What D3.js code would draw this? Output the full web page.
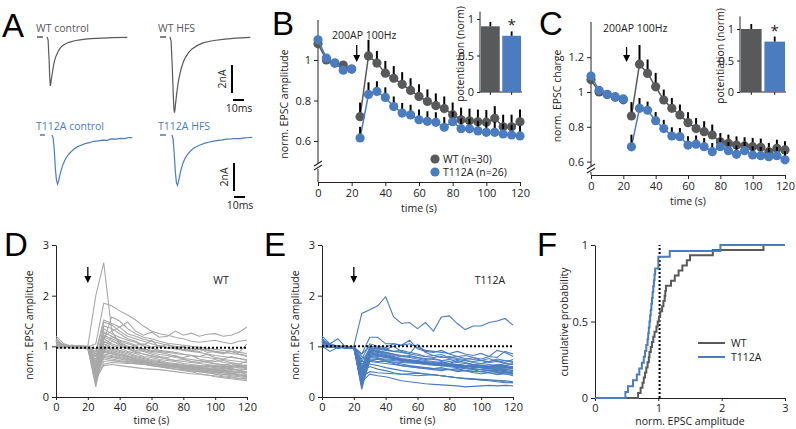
<!DOCTYPE html>
<html lang="en">
<head>
<meta charset="UTF-8">
<title>EPSC potentiation</title>
<script src="https://cdn.jsdelivr.net/npm/d3@7"></script>
<style>
  body { margin: 0; background: #fff; }
  svg text { font-family: "Open Sans", sans-serif; font-size: 10.5px; fill: #222; }
  svg .tick text { font-size: 11px; }
  svg text.letter { font-family: "Liberation Sans", Arial, sans-serif; font-size: 33px; fill: #000; }
</style>
</head>
<body>
<script>
const gray = '#58595b', blue = '#4a7cbf', light = '#a8a8a8'

// ---- A: example traces (ms, nA)
const tWT = [0, 1, 2, 2.5, 3, 3.5, 4, 5, 6, 7, 8, 10, 12, 14, 17, 20, 25, 30, 35, 40, 50, 60, 73]
const wtControl = [0, -0.2, -1.8, -2.9, -3.5, -3.3, -3.0, -2.5, -2.0, -1.65, -1.4, -1.05, -0.8, -0.62, -0.48, -0.38, -0.27, -0.2, -0.15, -0.12, -0.08, -0.05, -0.02]
const tHFS = [0, 1, 2, 3, 3.5, 4, 4.5, 5, 6, 7, 8, 10, 12, 14, 17, 20, 25, 30, 35, 40, 50, 60, 73]
const wtHFS = [0, -0.3, -2.0, -4.2, -5.0, -5.4, -5.2, -4.8, -4.1, -3.5, -3.0, -2.3, -1.8, -1.45, -1.1, -0.85, -0.6, -0.42, -0.32, -0.25, -0.15, -0.08, -0.03]
const tMut = [0, 1, 2, 3, 4, 5, 6, 7, 8, 10, 12, 14, 16, 18, 20, 23, 26, 30, 34, 38, 42, 46, 50, 54, 58, 62, 66, 70, 73]
const mutControl = [0, -0.2, -1.0, -2.3, -3.2, -3.5, -3.3, -2.9, -2.6, -2.1, -1.75, -1.5, -1.3, -1.15, -1.0, -0.85, -0.75, -0.62, -0.55, -0.45, -0.42, -0.36, -0.38, -0.28, -0.3, -0.24, -0.26, -0.18, -0.2]
const mutHFS = [0, -0.3, -1.3, -2.6, -3.4, -3.6, -3.3, -2.9, -2.55, -2.0, -1.65, -1.4, -1.2, -1.05, -0.92, -0.8, -0.7, -0.58, -0.5, -0.44, -0.38, -0.35, -0.3, -0.28, -0.25, -0.26, -0.2, -0.18, -0.17]

// ---- B / C: group means (time in s)
const times = [0, 5, 10, 15, 20, 25, 30, 35, 40, 45, 50, 55, 60, 65, 70, 75, 80, 85, 90, 95, 100, 105, 110, 115, 120]
const ampWT = [1.08, 1.0, 0.985, 0.975, 0.955, 0.72, 1.02, 0.985, 0.935, 0.91, 0.88, 0.85, 0.82, 0.795, 0.775, 0.76, 0.73, 0.705, 0.7, 0.695, 0.693, 0.712, 0.67, 0.67, 0.695]
const ampWTerr = [0.02, 0.02, 0.02, 0.02, 0.02, 0.07, 0.08, 0.06, 0.06, 0.06, 0.06, 0.06, 0.06, 0.06, 0.06, 0.06, 0.06, 0.06, 0.06, 0.06, 0.06, 0.06, 0.06, 0.06, 0.06]
const ampMut = [1.1, 1.01, 0.985, 0.95, 0.955, 0.615, 0.83, 0.845, 0.815, 0.77, 0.738, 0.729, 0.705, 0.697, 0.692, 0.668, 0.695, 0.661, 0.66, 0.65, 0.643, 0.643, 0.635, 0.63, 0.625]
const ampMutErr = [0.02, 0.02, 0.02, 0.02, 0.02, 0.055, 0.06, 0.05, 0.05, 0.05, 0.05, 0.05, 0.05, 0.05, 0.05, 0.05, 0.05, 0.05, 0.05, 0.05, 0.05, 0.05, 0.05, 0.05, 0.05]
const chgWT = [1.07, 1.0, 0.985, 0.97, 0.955, 0.862, 1.16, 1.107, 1.03, 0.954, 0.906, 0.868, 0.824, 0.79, 0.772, 0.753, 0.714, 0.705, 0.695, 0.69, 0.686, 0.682, 0.657, 0.676, 0.667]
const chgWTerr = [0.02, 0.02, 0.02, 0.02, 0.02, 0.08, 0.11, 0.08, 0.08, 0.06, 0.06, 0.06, 0.06, 0.06, 0.06, 0.06, 0.05, 0.05, 0.05, 0.05, 0.05, 0.05, 0.05, 0.05, 0.05]
const chgMut = [1.092, 1.01, 0.987, 0.973, 0.96, 0.685, 0.906, 0.895, 0.835, 0.79, 0.747, 0.743, 0.695, 0.7, 0.686, 0.657, 0.686, 0.663, 0.642, 0.663, 0.638, 0.634, 0.628, 0.634, 0.61]
const chgMutErr = [0.02, 0.02, 0.02, 0.02, 0.02, 0.07, 0.06, 0.05, 0.05, 0.05, 0.05, 0.05, 0.05, 0.05, 0.05, 0.05, 0.05, 0.05, 0.05, 0.05, 0.05, 0.05, 0.05, 0.05, 0.05]

// insets: potentiation (norm)
const groups = ['WT', 'T112A']
const potAmp = [0.9, 0.77], potAmpErr = [0.06, 0.06]
const potChg = [1.0, 0.8], potChgErr = [0.08, 0.08]

// ---- D / E: single cells, normalised amplitude at each time in `times`
const cellsWT = [
  [1.10,1.02,1.00,0.98,1.00,2.00,2.65,1.30,1.05,0.95,0.90,0.85,0.80,0.78,0.75,0.72,0.74,0.70,0.68,0.70,0.66,0.64,0.62,0.60,0.62],
  [1.05,0.98,1.02,1.00,0.99,1.05,1.85,1.80,1.70,1.62,1.52,1.40,1.30,1.25,1.22,1.18,1.15,1.10,1.08,1.10,1.12,1.08,1.05,1.10,1.12],
  [1.20,1.05,1.00,0.97,0.98,0.90,1.52,1.45,1.38,1.48,1.30,1.22,1.28,1.18,1.20,1.30,1.22,1.26,1.20,1.24,1.25,1.20,1.22,1.28,1.38],
  [1.00,1.00,0.98,1.01,1.00,0.85,1.48,1.42,1.30,1.20,1.15,1.10,1.05,1.00,0.98,0.95,0.92,0.90,0.88,0.85,0.82,0.80,0.78,0.76,0.74],
  [1.15,1.00,0.96,0.98,0.97,0.70,1.40,1.35,1.25,1.15,1.10,1.02,1.12,0.98,1.05,0.95,1.00,0.92,0.96,0.88,0.90,0.85,0.95,0.88,1.05],
  [1.05,1.02,0.99,0.98,0.96,0.60,1.35,1.25,1.18,1.12,1.08,1.00,0.96,0.92,0.90,0.88,0.85,0.82,0.80,0.84,0.78,0.75,0.80,0.76,0.72],
  [0.95,1.00,1.02,0.99,0.98,0.55,1.28,1.20,1.10,1.05,1.00,0.95,0.90,0.88,0.85,0.80,0.78,0.82,0.75,0.72,0.70,0.72,0.68,0.65,0.70],
  [1.10,0.97,1.00,1.00,0.95,0.50,1.22,1.15,1.08,1.00,0.96,0.92,0.88,0.84,0.82,0.78,0.76,0.74,0.72,0.70,0.74,0.68,0.66,0.64,0.60],
  [1.00,1.03,0.98,0.97,1.00,0.45,1.18,1.12,1.02,0.98,0.92,0.90,0.85,0.80,0.78,0.82,0.75,0.70,0.72,0.68,0.65,0.62,0.66,0.60,0.58],
  [1.12,1.00,0.99,1.00,0.98,0.40,1.15,1.05,1.00,0.95,0.88,0.85,0.82,0.78,0.75,0.72,0.70,0.68,0.66,0.64,0.62,0.60,0.58,0.62,0.56],
  [1.05,0.98,1.00,0.96,0.97,0.35,1.10,1.02,0.96,0.90,0.86,0.80,0.78,0.74,0.72,0.70,0.66,0.64,0.62,0.60,0.58,0.55,0.57,0.52,0.55],
  [0.98,1.00,0.97,0.99,1.00,0.30,1.05,0.98,0.92,0.88,0.82,0.78,0.74,0.72,0.68,0.66,0.64,0.60,0.58,0.56,0.54,0.52,0.50,0.48,0.50],
  [1.08,1.01,1.00,0.98,0.96,0.20,1.00,0.95,0.90,0.85,0.80,0.76,0.72,0.70,0.66,0.64,0.62,0.58,0.56,0.54,0.50,0.48,0.46,0.44,0.42],
  [1.02,0.99,0.98,0.97,0.95,0.65,1.00,0.92,0.88,0.82,0.78,0.74,0.70,0.68,0.64,0.60,0.58,0.55,0.52,0.50,0.48,0.45,0.42,0.40,0.38],
  [1.10,1.00,1.00,0.96,0.98,0.75,0.95,0.90,0.85,0.80,0.76,0.72,0.68,0.65,0.62,0.60,0.55,0.52,0.50,0.48,0.45,0.42,0.40,0.36,0.35],
  [1.00,0.98,1.01,1.00,0.97,0.80,0.92,0.88,0.84,0.80,0.74,0.70,0.66,0.62,0.58,0.55,0.52,0.50,0.46,0.44,0.40,0.38,0.36,0.34,0.32],
  [1.15,1.02,0.97,0.99,0.99,0.85,0.90,0.86,0.82,0.78,0.75,0.72,0.70,0.68,0.65,0.62,0.60,0.58,0.55,0.52,0.50,0.48,0.46,0.44,0.40],
  [1.05,1.00,0.99,0.98,0.98,0.90,0.88,0.85,0.80,0.76,0.72,0.68,0.66,0.64,0.62,0.60,0.58,0.56,0.60,0.55,0.52,0.50,0.48,0.45,0.45],
  [0.98,0.97,1.00,1.01,1.00,0.95,0.85,0.82,0.78,0.75,0.72,0.70,0.67,0.64,0.62,0.66,0.60,0.58,0.55,0.58,0.52,0.54,0.50,0.52,0.48],
  [1.10,1.02,0.98,0.97,0.96,0.70,0.82,0.80,0.76,0.74,0.70,0.68,0.65,0.62,0.60,0.58,0.56,0.55,0.52,0.50,0.48,0.52,0.46,0.50,0.44],
  [1.02,1.00,0.99,0.98,1.00,0.60,0.80,0.78,0.75,0.72,0.70,0.68,0.66,0.64,0.65,0.62,0.60,0.58,0.57,0.56,0.55,0.56,0.54,0.55,0.55],
  [1.08,0.99,1.00,0.99,0.97,0.55,0.78,0.75,0.72,0.70,0.68,0.65,0.62,0.60,0.58,0.62,0.56,0.58,0.55,0.52,0.56,0.50,0.52,0.48,0.50],
  [1.00,1.01,0.98,1.00,0.98,0.50,0.75,0.72,0.70,0.68,0.65,0.64,0.62,0.60,0.57,0.55,0.54,0.52,0.50,0.48,0.46,0.45,0.44,0.42,0.40],
  [1.12,1.00,1.00,0.97,0.99,0.45,0.70,0.72,0.70,0.69,0.68,0.67,0.66,0.65,0.64,0.63,0.62,0.62,0.60,0.61,0.60,0.58,0.60,0.58,0.57],
  [1.05,0.98,0.99,1.00,0.98,0.40,0.65,0.68,0.67,0.66,0.66,0.65,0.64,0.64,0.63,0.62,0.62,0.61,0.60,0.62,0.60,0.61,0.60,0.62,0.63],
  [0.96,1.00,0.98,0.99,0.97,0.35,0.62,0.64,0.62,0.60,0.58,0.56,0.55,0.54,0.52,0.50,0.48,0.46,0.45,0.43,0.42,0.40,0.38,0.37,0.36],
  [1.05,1.00,1.02,1.00,0.98,0.25,0.90,1.10,1.05,1.00,0.98,0.95,0.92,0.90,0.88,0.86,0.84,0.82,0.80,0.78,0.76,0.74,0.72,0.70,0.68],
  [1.10,1.02,0.99,0.98,0.97,0.30,0.95,1.20,1.12,1.08,1.02,1.05,0.98,1.02,0.96,0.98,0.94,0.92,0.90,0.95,0.88,0.86,0.90,0.85,0.82],
  [1.00,0.99,1.01,0.97,0.98,0.65,1.12,1.58,1.50,1.35,1.25,1.18,1.15,1.10,1.06,1.04,1.02,1.00,0.98,0.96,0.94,0.92,0.90,0.88,0.86],
  [1.03,1.00,0.98,1.00,0.99,0.80,1.20,1.30,1.38,1.25,1.20,1.14,1.10,1.06,1.02,1.00,0.98,0.96,0.94,0.92,0.90,0.88,0.86,0.84,0.80]
]
const cellsMut = [
  [1.10,1.05,1.00,0.98,1.00,1.65,1.72,1.80,1.98,1.58,1.45,1.47,1.35,1.47,1.30,1.58,1.60,1.45,1.33,1.40,1.40,1.47,1.50,1.55,1.42],
  [1.20,1.05,1.15,0.98,0.97,0.85,1.18,1.18,1.05,1.05,1.02,1.05,0.98,0.92,0.90,0.88,0.86,0.90,0.85,0.82,0.86,0.80,0.78,0.90,0.85],
  [1.15,1.00,0.98,1.00,0.96,0.75,1.05,1.00,0.98,1.05,1.02,1.12,0.95,0.90,0.88,0.92,0.85,0.80,0.82,0.78,0.75,0.80,0.92,0.88,0.80],
  [1.05,0.98,1.00,0.97,0.98,0.60,0.98,0.95,0.92,0.90,0.88,0.85,0.82,0.80,0.78,0.80,0.76,0.74,0.72,0.70,0.72,0.68,0.70,0.66,0.65],
  [1.10,1.02,0.97,0.99,0.98,0.50,0.95,0.92,0.88,0.85,0.82,0.80,0.78,0.76,0.74,0.72,0.70,0.68,0.66,0.64,0.62,0.60,0.62,0.58,0.60],
  [1.00,0.90,0.98,1.00,0.97,0.40,0.92,0.90,0.86,0.82,0.80,0.78,0.75,0.72,0.70,0.68,0.66,0.64,0.62,0.60,0.58,0.56,0.55,0.54,0.52],
  [1.08,1.00,0.99,0.98,0.99,0.30,0.90,0.88,0.84,0.80,0.76,0.74,0.72,0.70,0.68,0.66,0.65,0.64,0.62,0.60,0.58,0.56,0.54,0.52,0.50],
  [1.12,1.02,1.00,0.96,0.97,0.20,0.85,0.84,0.82,0.78,0.74,0.72,0.70,0.68,0.66,0.64,0.62,0.60,0.58,0.56,0.54,0.52,0.50,0.48,0.46],
  [1.05,0.98,1.01,0.99,0.98,0.15,0.80,0.82,0.78,0.76,0.72,0.70,0.68,0.66,0.64,0.62,0.60,0.58,0.56,0.55,0.54,0.53,0.52,0.50,0.48],
  [1.00,1.00,0.96,1.00,0.99,0.45,0.88,0.86,0.82,0.78,0.75,0.70,0.72,0.68,0.65,0.70,0.66,0.72,0.68,0.64,0.66,0.70,0.72,0.68,0.74],
  [1.15,1.03,1.00,0.97,0.98,0.55,0.86,0.82,0.80,0.76,0.74,0.72,0.70,0.66,0.64,0.62,0.66,0.60,0.58,0.62,0.60,0.58,0.62,0.66,0.64],
  [1.02,0.99,1.00,0.98,0.96,0.35,0.82,0.80,0.78,0.76,0.74,0.72,0.70,0.68,0.66,0.64,0.66,0.62,0.60,0.62,0.60,0.58,0.60,0.57,0.58],
  [1.10,1.01,0.98,0.99,0.98,0.25,0.78,0.76,0.75,0.74,0.72,0.70,0.69,0.68,0.66,0.65,0.64,0.63,0.62,0.64,0.62,0.60,0.62,0.61,0.60],
  [1.05,1.00,0.99,0.98,0.97,0.65,0.75,0.74,0.73,0.72,0.70,0.68,0.67,0.66,0.66,0.64,0.62,0.64,0.62,0.60,0.63,0.61,0.64,0.62,0.65],
  [1.00,0.98,1.00,1.00,0.98,0.70,0.72,0.70,0.70,0.69,0.68,0.67,0.66,0.64,0.63,0.62,0.62,0.60,0.61,0.58,0.60,0.58,0.57,0.58,0.56],
  [1.08,1.00,0.98,0.97,0.99,0.80,0.70,0.68,0.66,0.64,0.62,0.60,0.58,0.57,0.56,0.55,0.54,0.53,0.52,0.50,0.50,0.48,0.47,0.46,0.45],
  [1.12,0.99,1.00,0.99,0.98,0.60,0.65,0.62,0.58,0.55,0.52,0.50,0.48,0.46,0.44,0.42,0.40,0.38,0.36,0.35,0.33,0.32,0.30,0.28,0.28],
  [1.05,1.00,0.97,0.98,0.96,0.50,0.60,0.55,0.52,0.48,0.45,0.46,0.47,0.45,0.44,0.42,0.40,0.38,0.37,0.36,0.35,0.34,0.33,0.32,0.30],
  [1.00,1.02,0.99,0.97,0.98,0.40,0.50,0.48,0.47,0.46,0.45,0.44,0.42,0.43,0.44,0.42,0.40,0.38,0.36,0.35,0.34,0.33,0.32,0.30,0.28],
  [1.10,0.98,1.00,0.99,0.97,0.30,0.45,0.42,0.40,0.36,0.32,0.30,0.28,0.26,0.25,0.24,0.23,0.22,0.20,0.21,0.22,0.23,0.22,0.23,0.22],
  [1.08,1.01,0.99,0.98,0.99,0.85,1.00,0.98,0.95,0.90,0.92,0.88,0.85,0.80,0.82,0.84,0.78,0.80,0.76,0.74,0.72,0.70,0.75,0.72,0.70],
  [1.02,0.99,1.00,0.97,0.98,0.70,0.95,0.96,0.94,1.00,0.90,0.85,1.04,0.88,0.82,0.78,0.80,0.76,0.74,0.78,0.72,0.76,0.70,0.72,0.68],
  [1.15,1.00,0.98,1.00,0.99,0.55,0.92,0.90,0.88,0.84,0.80,0.82,0.78,0.74,0.76,0.72,0.74,0.70,0.72,0.68,0.66,0.64,0.62,0.60,0.58],
  [1.05,1.02,1.00,0.99,0.98,0.45,0.88,0.84,0.80,0.76,0.72,0.70,0.68,0.66,0.64,0.66,0.62,0.64,0.60,0.62,0.58,0.56,0.58,0.54,0.56],
  [1.00,0.98,0.99,1.00,0.97,0.35,0.80,0.78,0.72,0.68,0.65,0.62,0.60,0.58,0.56,0.58,0.54,0.56,0.52,0.54,0.50,0.52,0.48,0.50,0.46],
  [1.10,1.00,1.00,0.98,0.98,0.20,0.70,0.75,0.70,0.66,0.62,0.60,0.58,0.56,0.54,0.52,0.55,0.50,0.52,0.48,0.46,0.48,0.44,0.46,0.42]
]

// ---- F: potentiation per cell (sorted)
const potWT = [0.68,0.72,0.75,0.77,0.79,0.81,0.83,0.85,0.86,0.88,0.90,0.92,0.94,0.97,0.99,1.01,1.03,1.06,1.08,1.10,1.11,1.12,1.20,1.26,1.32,1.38,1.45,1.50,1.86,2.66]
const potMut = [0.48,0.52,0.60,0.66,0.70,0.74,0.77,0.79,0.81,0.83,0.84,0.85,0.86,0.87,0.88,0.89,0.90,0.91,0.92,0.93,0.94,0.95,1.00,1.00,1.18,1.98]

const svg = d3.select('body').append('svg').attr('width', 796).attr('height', 429)

const letter = (t, x, y) => svg.append('text').attr('class', 'letter').attr('x', x).attr('y', y).text(t)
const text = (t, x, y, anchor, color) => svg.append('text').attr('x', x).attr('y', y)
  .attr('text-anchor', anchor || 'start').style('fill', color || '#222').text(t)
const ytitle = (t, x, y) => svg.append('text').attr('transform', `translate(${x},${y}) rotate(-90)`)
  .attr('text-anchor', 'middle').text(t)
const seg = (x1, y1, x2, y2, w, c) => svg.append('line').attr('x1', x1).attr('y1', y1).attr('x2', x2).attr('y2', y2)
  .attr('stroke', c || '#222').attr('stroke-width', w || 1)
const arrow = (x, y1, y2) => {
  seg(x, y1, x, y2 - 5, 1.3, '#000')
  svg.append('path').attr('d', `M${x - 3.5},${y2 - 7}L${x + 3.5},${y2 - 7}L${x},${y2}Z`).attr('fill', '#000')
}
const fmt = d => String(d)

function axis(gen, tx, ty) {
  const g = svg.append('g').attr('transform', `translate(${tx},${ty})`).call(gen)
  g.selectAll('.domain, .tick line').attr('stroke', '#222')
  g.selectAll('.tick text').style('fill', '#222')
  return g
}
function yBreakAxis(x, y, top, breakY, bottom) {
  const g = axis(d3.axisLeft(y).tickValues(y.ticksList).tickFormat(fmt).tickSize(4).tickSizeOuter(0), x, 0)
  g.select('.domain').remove()
  seg(x, top, x, breakY - 3)
  seg(x, breakY + 3, x, bottom)
  seg(x - 4, breakY, x + 4, breakY - 5, 1.1)
  seg(x - 4, breakY + 4, x + 4, breakY - 1, 1.1)
}

// ================= A =================
letter('A', 2, 37)
const ms = d3.scaleLinear().domain([0, 10]).range([0, 11])
const nA = d3.scaleLinear().domain([0, 2]).range([0, -28])
function trace(ts, vs, x0, y0, color) {
  const line = d3.line().x((d, i) => x0 + ms(ts[i])).y(d => y0 + nA(d))
  svg.append('path').attr('d', line(vs)).attr('fill', 'none').attr('stroke', color).attr('stroke-width', 1.2)
}
text('WT control', 36, 32, 'start', gray)
text('WT HFS', 158, 32, 'start', gray)
text('T112A control', 36, 130, 'start', blue)
text('T112A HFS', 158, 130, 'start', blue)
seg(37, 37, 43, 37, 1.5, gray); seg(160, 37, 166, 37, 1.5, gray)
seg(40, 135, 45, 135, 1.5, blue); seg(160, 135, 166, 135, 1.5, blue)
trace(tWT, wtControl, 47, 37, gray)
trace(tHFS, wtHFS, 170, 37, gray)
trace(tMut, mutControl, 52, 135, blue)
trace(tMut, mutHFS, 172, 135, blue)
// scale bars
seg(232, 93 + nA(2), 232, 93, 2, '#000'); seg(233, 100, 233 + ms(10), 100, 2, '#000')
svg.append('text').attr('transform', 'translate(226,79) rotate(-90)').attr('text-anchor', 'middle').text('2nA')
text('10ms', 239, 112, 'middle')
seg(234, 191 + nA(2), 234, 191, 2, '#000'); seg(234, 197, 234 + ms(10), 197, 2, '#000')
svg.append('text').attr('transform', 'translate(228,177) rotate(-90)').attr('text-anchor', 'middle').text('2nA')
text('10ms', 240, 209, 'middle')

// ================= B / C =================
function meanPanel(o) {
  const x = d3.scaleLinear().domain([0, 120]).range(o.xr)
  const y = d3.scaleLinear().domain([1, 0.6]).range(o.yr)
  y.ticksList = o.yticks
  yBreakAxis(o.xr[0], y, o.top, o.breakY, o.axisY)
  axis(d3.axisBottom(x).tickValues([0, 20, 40, 60, 80, 100, 120]).tickSize(4).tickSizeOuter(0), 0, o.axisY)
  text('time (s)', (o.xr[0] + o.xr[1]) / 2, o.axisY + 30, 'middle')
  ytitle(o.ytitle, o.xr[0] - 30, o.ytitleY)
  const idx = times.map((t, i) => i)
  const pre = idx.filter(i => times[i] <= 20), post = idx.filter(i => times[i] >= 25)
  const series = [[o.wt, o.wtErr, gray], [o.mut, o.mutErr, blue]]
  series.forEach(([v, e, c]) => {
    const line = d3.line().x(i => x(times[i])).y(i => y(v[i]))
    ;[pre, post].forEach(part => svg.append('path').attr('d', line(part))
      .attr('fill', 'none').attr('stroke', c).attr('stroke-width', 1.5))
    svg.append('g').selectAll('line').data(post).enter().append('line')
      .attr('x1', i => x(times[i])).attr('x2', i => x(times[i]))
      .attr('y1', i => y(v[i])).attr('y2', i => y(v[i] + e[i]))
      .attr('stroke', '#000').attr('stroke-width', 2)
    svg.append('g').selectAll('circle').data(idx).enter().append('circle')
      .attr('cx', i => x(times[i])).attr('cy', i => y(v[i])).attr('r', 4.6).attr('fill', c)
  })
  text('200AP 100Hz', o.stimX, o.stimY)
  arrow(x(o.arrowT), o.arrowY[0], o.arrowY[1])
  return x
}
function inset(o) {
  const y = d3.scaleLinear().domain([0, 1]).range(o.yr)
  const x = d3.scaleBand().domain(groups).range(o.xr).paddingInner(0.12)
  const ax = axis(d3.axisLeft(y).tickValues([0, 0.5, 1]).tickFormat(fmt).tickSize(3).tickSizeOuter(0), o.xr[0] - 1, 0)
  ax.select('.domain').remove()
  seg(o.xr[0] - 1, y(o.topV), o.xr[0] - 1, y(0))
  seg(o.xr[0] - 1, y(0), o.xr[1] + 1, y(0))
  svg.append('g').selectAll('rect').data(groups).enter().append('rect')
    .attr('x', d => x(d)).attr('width', x.bandwidth())
    .attr('y', (d, i) => y(o.v[i])).attr('height', (d, i) => y(0) - y(o.v[i]))
    .attr('fill', (d, i) => i ? blue : gray)
  groups.forEach((g, i) => {
    const cx = x(g) + x.bandwidth() / 2
    seg(cx, y(o.v[i]), cx, y(o.v[i] + o.e[i]), 1.8, '#000')
    seg(cx, y(0), cx, y(0) + 3)
  })
  svg.append('text').attr('x', x('T112A') + x.bandwidth() / 2).attr('y', y(o.v[1] + o.e[1]) - 1)
    .attr('text-anchor', 'middle').style('font-size', '15px').text('*')
  ytitle('potentiation (norm)', o.xr[0] - 17, o.titleY)
}

letter('B', 272, 35)
meanPanel({ xr: [318, 520], yr: [60, 141], yticks: [0.6, 0.8, 1], top: 20, breakY: 166, axisY: 182,
  wt: ampWT, wtErr: ampWTerr, mut: ampMut, mutErr: ampMutErr,
  ytitle: 'norm. EPSC amplitude', ytitleY: 104, stimX: 332, stimY: 39, arrowT: 23, arrowY: [45, 62] })
inset({ xr: [481, 521], yr: [92, 19], topV: 1.1, v: potAmp, e: potAmpErr, titleY: 54 })
// legend B
svg.append('circle').attr('cx', 435).attr('cy', 159).attr('r', 4.6).attr('fill', gray)
svg.append('circle').attr('cx', 435).attr('cy', 172).attr('r', 4.6).attr('fill', blue)
text('WT (n=30)', 443, 163)
text('T112A (n=26)', 443, 176)

letter('C', 539, 35)
meanPanel({ xr: [591, 785], yr: [92, 161.6], yticks: [0.6, 0.8, 1, 1.2], top: 22, breakY: 169, axisY: 175,
  wt: chgWT, wtErr: chgWTerr, mut: chgMut, mutErr: chgMutErr,
  ytitle: 'norm. EPSC charge', ytitleY: 96, stimX: 603, stimY: 32, arrowT: 22, arrowY: [47, 62] })
inset({ xr: [741, 785], yr: [92, 29], topV: 1.2, v: potChg, e: potChgErr, titleY: 56 })

// ================= D / E =================
function cellPanel(o) {
  const x = d3.scaleLinear().domain([0, 120]).range(o.xr)
  const y = d3.scaleLinear().domain([0, 3]).range([397, 245])
  axis(d3.axisLeft(y).tickValues([0, 1, 2, 3]).tickFormat(fmt).tickSize(4).tickSizeOuter(0), o.xr[0], 0)
  axis(d3.axisBottom(x).tickValues([0, 20, 40, 60, 80, 100, 120]).tickFormat(fmt).tickSize(3).tickSizeOuter(0), 0, 397)
  const line = d3.line().x((d, i) => x(times[i])).y(d => y(d))
  svg.append('g').selectAll('path').data(o.cells).enter().append('path')
    .attr('d', line).attr('fill', 'none').attr('stroke', o.color).attr('stroke-width', 1.1)
  seg(x(0), y(o.ref), x(120), y(o.ref), 2, '#000').attr('stroke-dasharray', '2,2')
  arrow(x(20), 267, 283)
  text(o.name, o.nameX, 284, 'middle')
  text('time (s)', (o.xr[0] + o.xr[1]) / 2, 424, 'middle')
  ytitle('norm. EPSC amplitude', o.xr[0] - 23, 325)
}
letter('D', 4, 256)
cellPanel({ xr: [56, 247], cells: cellsWT, color: light, ref: 0.97, name: 'WT', nameX: 221 })
letter('E', 264, 256)
cellPanel({ xr: [322, 513], cells: cellsMut, color: blue, ref: 1.0, name: 'T112A', nameX: 490 })

// ================= F =================
letter('F', 537, 256)
const xF = d3.scaleLinear().domain([0, 3]).range([595, 785])
const yF = d3.scaleLinear().domain([0, 1]).range([398, 245])
axis(d3.axisLeft(yF).tickValues([0, 0.5, 1]).tickFormat(fmt).tickSize(4).tickSizeOuter(0), 595, 0)
axis(d3.axisBottom(xF).tickValues([0, 1, 2, 3]).tickFormat(fmt).tickSize(3).tickSizeOuter(0), 0, 398)
seg(xF(1.02), yF(0), xF(1.02), yF(1), 2, '#000').attr('stroke-dasharray', '2,2')
const ecdf = vals => [[0, 0]].concat(vals.map((v, i) => [v, (i + 1) / vals.length]), [[3, 1]])
const stepLine = d3.line().x(d => xF(d[0])).y(d => yF(d[1])).curve(d3.curveStepAfter)
svg.append('path').attr('d', stepLine(ecdf(potWT))).attr('fill', 'none').attr('stroke', gray).attr('stroke-width', 2)
svg.append('path').attr('d', stepLine(ecdf(potMut))).attr('fill', 'none').attr('stroke', blue).attr('stroke-width', 2)
seg(698, 343, 725, 343, 2, gray); text('WT', 731, 347)
seg(698, 357, 725, 357, 2, blue); text('T112A', 731, 361)
text('norm. EPSC amplitude', 690, 425, 'middle')
ytitle('cumulative probability', 568, 322)
</script>
</body>
</html>
